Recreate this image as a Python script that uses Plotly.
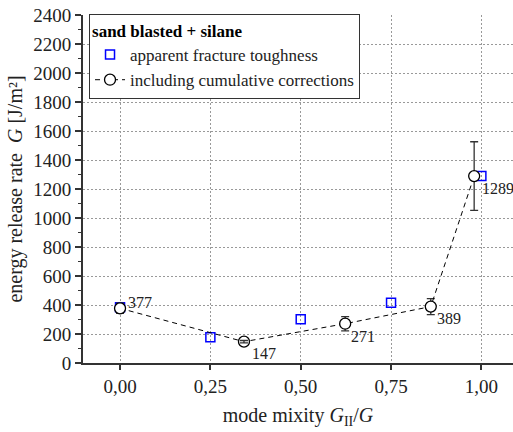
import plotly.graph_objects as go

# apparent fracture toughness (blue squares)
app_x = [0.0, 0.25, 0.50, 0.75, 1.00]
app_y = [385, 178, 302, 415, 1290]

# including cumulative corrections (black circles, dashed)
cor_x = [0.0, 0.343, 0.623, 0.860, 0.980]
cor_y = [377, 147, 271, 389, 1289]
cor_err = [35, 8, 49, 55, 237]

x_ticks = [0.0, 0.25, 0.50, 0.75, 1.00]
y_ticks = list(range(0, 2401, 200))

FONT = "Liberation Serif"

fig = go.Figure()

fig.add_trace(go.Scatter(
    x=app_x, y=app_y, mode="markers", name="apparent fracture toughness",
    marker=dict(symbol="square-open", size=9, color="#0000ff", line=dict(width=1.5)),
))
fig.add_trace(go.Scatter(
    x=cor_x, y=cor_y, mode="lines+markers", name="including cumulative corrections",
    line=dict(color="black", width=1, dash="5px,4px"),
    marker=dict(symbol="circle", size=11, color="white", line=dict(color="black", width=1.3)),
    error_y=dict(type="data", array=cor_err, visible=True, color="#333", thickness=1.3, width=4),
))
fig.add_trace(go.Scatter(
    x=[cor_x[1]], y=[cor_y[1]], mode="markers", showlegend=False, hoverinfo="skip",
    marker=dict(size=1, color="rgba(0,0,0,0)"),
    error_y=dict(type="data", array=[cor_err[1]], visible=True, color="#333", thickness=1.3, width=4),
))

offsets = [(6, 6), (6, -12), (4, -13), (4, -12), (6, -12)]
for xv, yv, (dx, dy) in zip(cor_x, cor_y, offsets):
    fig.add_annotation(x=xv, y=yv, text=str(yv), showarrow=False, xanchor="left",
                       yanchor="middle", xshift=dx, yshift=dy,
                       font=dict(family=FONT, size=16, color="#222"))

fig.update_layout(
    width=513, height=432,
    margin=dict(l=83, r=0, t=15, b=69),
    paper_bgcolor="white", plot_bgcolor="white",
    font=dict(family=FONT, size=18, color="#222"),
    showlegend=True,
    legend=dict(
        x=0.014, y=1.003, xanchor="left", yanchor="top",
        bgcolor="white", bordercolor="#333", borderwidth=1,
        title=dict(text="<b>sand blasted + silane</b>", side="top",
                   font=dict(family=FONT, size=17, color="black")),
        font=dict(family=FONT, size=17, color="#222"),
        tracegroupgap=0, itemwidth=30,
    ),
)

fig.update_xaxes(
    range=[-0.1025, 1.0875], tickvals=x_ticks,
    ticktext=[f"{v:.2f}".replace(".", ",") for v in x_ticks],
    showline=True, linecolor="#333", linewidth=2, zeroline=False,
    ticks="outside", ticklen=5, tickwidth=1.5, tickcolor="#333",
    showgrid=True, gridcolor="#999", griddash="2px,2px", gridwidth=1,
    title=dict(text="mode mixity <i>G</i><sub>II</sub>/<i>G</i>", standoff=12,
               font=dict(family=FONT, size=20)),
    tickfont=dict(family=FONT, size=19),
)
fig.update_yaxes(
    range=[0, 2400], tickvals=y_ticks,
    showline=True, linecolor="#333", linewidth=2, zeroline=False,
    ticks="outside", ticklen=6, tickwidth=1.5, tickcolor="#333",
    minor=dict(ticks="outside", dtick=100, ticklen=3, tickwidth=1.2, tickcolor="#333", showgrid=False),
    showgrid=True, gridcolor="#999", griddash="2px,2px", gridwidth=1,
    title=dict(text="energy release rate  <i>G</i> [J/m²]", standoff=5,
               font=dict(family=FONT, size=20)),
    tickfont=dict(family=FONT, size=19),
)

fig.write_html("out.html")
